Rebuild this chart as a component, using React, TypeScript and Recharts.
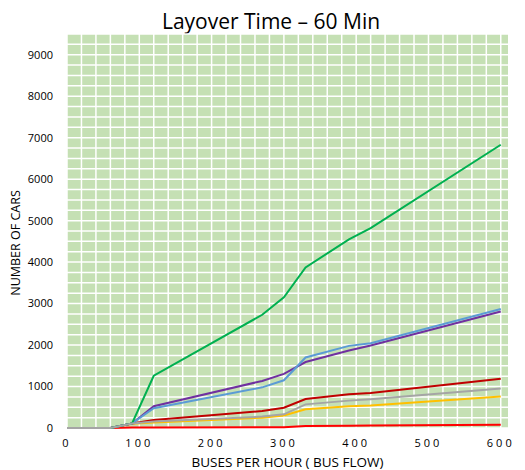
import React from 'react'
import { CartesianGrid, Label, Line, LineChart, XAxis, YAxis } from 'recharts'

const busFlow = [0, 60, 90, 120, 270, 300, 330, 390, 420, 600]
const green = [0, 0, 110, 1260, 2730, 3150, 3870, 4550, 4820, 6830]
const blue = [0, 0, 110, 475, 980, 1150, 1700, 1980, 2045, 2870]
const purple = [0, 0, 110, 525, 1135, 1305, 1590, 1870, 1990, 2810]
const darkRed = [0, 0, 110, 195, 410, 490, 700, 815, 845, 1185]
const gray = [0, 0, 110, 155, 275, 330, 570, 660, 695, 950]
const yellow = [0, 0, 100, 130, 250, 300, 450, 525, 540, 757]
const red = [0, 0, 10, 12, 18, 20, 48, 55, 58, 80]

const xTicks = [0, 100, 200, 300, 400, 500, 600]
const yTicks = [0, 1000, 2000, 3000, 4000, 5000, 6000, 7000, 8000, 9000]
const xMax = 610
const yMax = 9500
const xGrid = Array.from({ length: 31 }, (_, i) => i * 20)
const yGrid = Array.from({ length: 39 }, (_, i) => i * 250)

const data = busFlow.map((x, i) => ({
  x,
  green: green[i],
  blue: blue[i],
  purple: purple[i],
  darkRed: darkRed[i],
  gray: gray[i],
  yellow: yellow[i],
  red: red[i],
}))

const font = '"Open Sans", sans-serif'

// grid every 20 buses / 250 cars, spread over the plot area
const vGen = ({ offset }: any) => xGrid.map((v) => offset.left + (offset.width * v) / xMax)
const hGen = ({ offset }: any) => yGrid.map((v) => offset.top + offset.height * (1 - v / yMax))

const YTitle = () => (
  <text x={15} y={243} transform="rotate(-90 15 243)" textAnchor="middle" dominantBaseline="central" fontSize={12.5} fill="#000" fontFamily={font}>
    NUMBER OF CARS
  </text>
)

export default function App() {
  return (
    <div style={{ position: 'absolute', left: 0, top: 0, width: 525, height: 470, background: '#fff', fontFamily: font }}>
      <div style={{ position: 'absolute', left: 0, top: 7, width: 542, textAlign: 'center', fontSize: 21, color: '#000' }}>
        Layover Time – 60 Min
      </div>
      <LineChart width={525} height={470} data={data} margin={{ top: 34, right: 17, bottom: 12, left: 7 }}>
        <CartesianGrid
          fill="#C5E0B4"
          fillOpacity={1}
          stroke="#ffffff"
          strokeWidth={1.5}
          verticalCoordinatesGenerator={vGen}
          horizontalCoordinatesGenerator={hGen}
        />
        <XAxis
          dataKey="x"
          type="number"
          domain={[0, xMax]}
          ticks={xTicks}
          axisLine={false}
          tickLine={false}
          tickSize={0}
          tickMargin={11}
          height={30}
          tick={{ fontSize: 11, fill: '#000', letterSpacing: 3, fontFamily: font }}
        >
          <Label value="BUSES PER HOUR ( BUS FLOW)" position="insideBottom" offset={-9} style={{ fontSize: 13.5, fill: '#000', fontFamily: font }} />
        </XAxis>
        <YAxis
          type="number"
          domain={[0, yMax]}
          ticks={yTicks}
          axisLine={false}
          tickLine={false}
          tickSize={0}
          tickMargin={14}
          width={60}
          tick={{ fontSize: 11, fill: '#000', fontFamily: font }}
        >
          <Label content={YTitle} />
        </YAxis>
        <Line dataKey="red" stroke="#FF0000" strokeWidth={2} dot={false} isAnimationActive={false} />
        <Line dataKey="yellow" stroke="#FFC000" strokeWidth={2} dot={false} isAnimationActive={false} />
        <Line dataKey="darkRed" stroke="#C00000" strokeWidth={2} dot={false} isAnimationActive={false} />
        <Line dataKey="purple" stroke="#7030A0" strokeWidth={2} dot={false} isAnimationActive={false} />
        <Line dataKey="blue" stroke="#5B9BD5" strokeWidth={2} dot={false} isAnimationActive={false} />
        <Line dataKey="green" stroke="#00B050" strokeWidth={2} dot={false} isAnimationActive={false} />
        <Line dataKey="gray" stroke="#A5A5A5" strokeWidth={2} dot={false} isAnimationActive={false} />
      </LineChart>
    </div>
  )
}
